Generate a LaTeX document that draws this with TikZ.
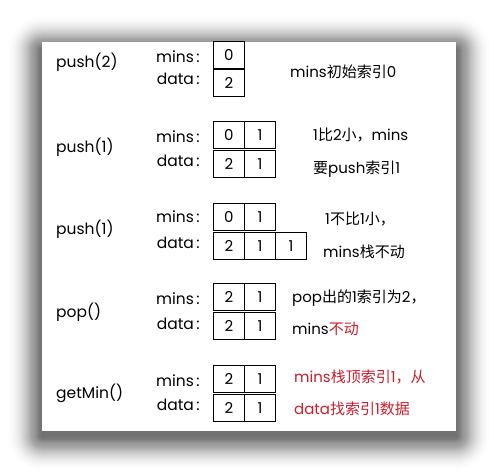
\documentclass[tikz,border=0pt]{standalone}
\usepackage{fontspec}
\setmainfont{Poppins}
\newfontfamily\cjk{Noto Sans CJK SC}
\definecolor{myred}{RGB}{205,30,45}
\newcommand{\zh}[1]{{\cjk #1}}
\tikzset{
  cell/.style={draw, line width=0.9pt, minimum width=31pt, minimum height=27pt, inner sep=0pt, anchor=north west, font=\fontsize{15}{18}\selectfont},
  optext/.style={anchor=base west, inner sep=0pt, font=\fontsize{15.5}{18}\selectfont},
  lbl/.style={anchor=base east, inner sep=0pt, font=\fontsize{15.5}{18}\selectfont},
  note/.style={anchor=base west, inner sep=0pt, font=\fontsize{15}{18}\selectfont},
}
\begin{document}
\begin{tikzpicture}[x=1pt,y=-1pt]
\useasboundingbox (0,0) rectangle (498,473);
\fill[white] (0,0) rectangle (498,473);
% shadow
\foreach \i in {1,...,34}{
  \pgfmathsetmacro{\op}{0.04*(1-\i/36)}
  \fill[black, opacity=\op, rounded corners=\i pt] (42-\i,42-\i+8) rectangle (456+\i,431+\i+5);
}
\fill[white] (42,42) rectangle (456,431);

% row 1
\node[optext] (op1) at (56,68) {push(2)};
\node[lbl] (lm1) at (200,63) {mins\,:};
\node[lbl] (ld1) at (200,85) {data\,:};
\node[cell] (m1a) at (213,41) {0};
\node[cell] (d1a) at (213,69) {2};
\node[note] (n1) at (290,78) {mins\zh{初始索引}0};

% row 2
\node[optext] (op2) at (56,153) {push(1)};
\node[lbl] (lm2) at (200,143) {mins\,:};
\node[lbl] (ld2) at (200,167) {data\,:};
\node[cell] (m2a) at (213,121) {0};
\node[cell] (m2b) at (244,121) {1};
\node[cell] (d2a) at (213,150) {2};
\node[cell] (d2b) at (244,150) {1};
\node[note] (n2a) at (313,141) {1\zh{比}2\zh{小，}mins};
\node[note] (n2b) at (313,174) {\zh{要}push\zh{索引}1};

% row 3
\node[optext] (op3) at (56,235) {push(1)};
\node[lbl] (lm3) at (200,223) {mins\,:};
\node[lbl] (ld3) at (200,248) {data\,:};
\node[cell] (m3a) at (213,203) {0};
\node[cell] (m3b) at (244,203) {1};
\node[cell] (d3a) at (213,232) {2};
\node[cell] (d3b) at (244,232) {1};
\node[cell] (d3c) at (275,232) {1};
\node[note] (n3a) at (325,225) {1\zh{不比}1\zh{小，}};
\node[note] (n3b) at (323,258) {mins\zh{栈不动}};

% row 4
\node[optext] (op4) at (56,317) {pop()};
\node[lbl] (lm4) at (200,304) {mins\,:};
\node[lbl] (ld4) at (200,329) {data\,:};
\node[cell] (m4a) at (213,283) {2};
\node[cell] (m4b) at (244,283) {1};
\node[cell] (d4a) at (213,312) {2};
\node[cell] (d4b) at (244,312) {1};
\node[note] (n4a) at (292,302) {pop\zh{出的}1\zh{索引为}2\zh{，}};
\node[note] (n4b) at (292,334) {mins\textcolor{myred}{\zh{不动}}};

% row 5
\node[optext] (op5) at (56,398) {getMin()};
\node[lbl] (lm5) at (200,386) {mins\,:};
\node[lbl] (ld5) at (200,410) {data\,:};
\node[cell] (m5a) at (213,365) {2};
\node[cell] (m5b) at (244,365) {1};
\node[cell] (d5a) at (213,394) {2};
\node[cell] (d5b) at (244,394) {1};
\node[note, text=myred] (n5a) at (294,382) {mins\zh{栈顶索引}1\zh{，从}};
\node[note, text=myred] (n5b) at (294,414) {data\zh{找索引}1\zh{数据}};
\end{tikzpicture}
\end{document}
